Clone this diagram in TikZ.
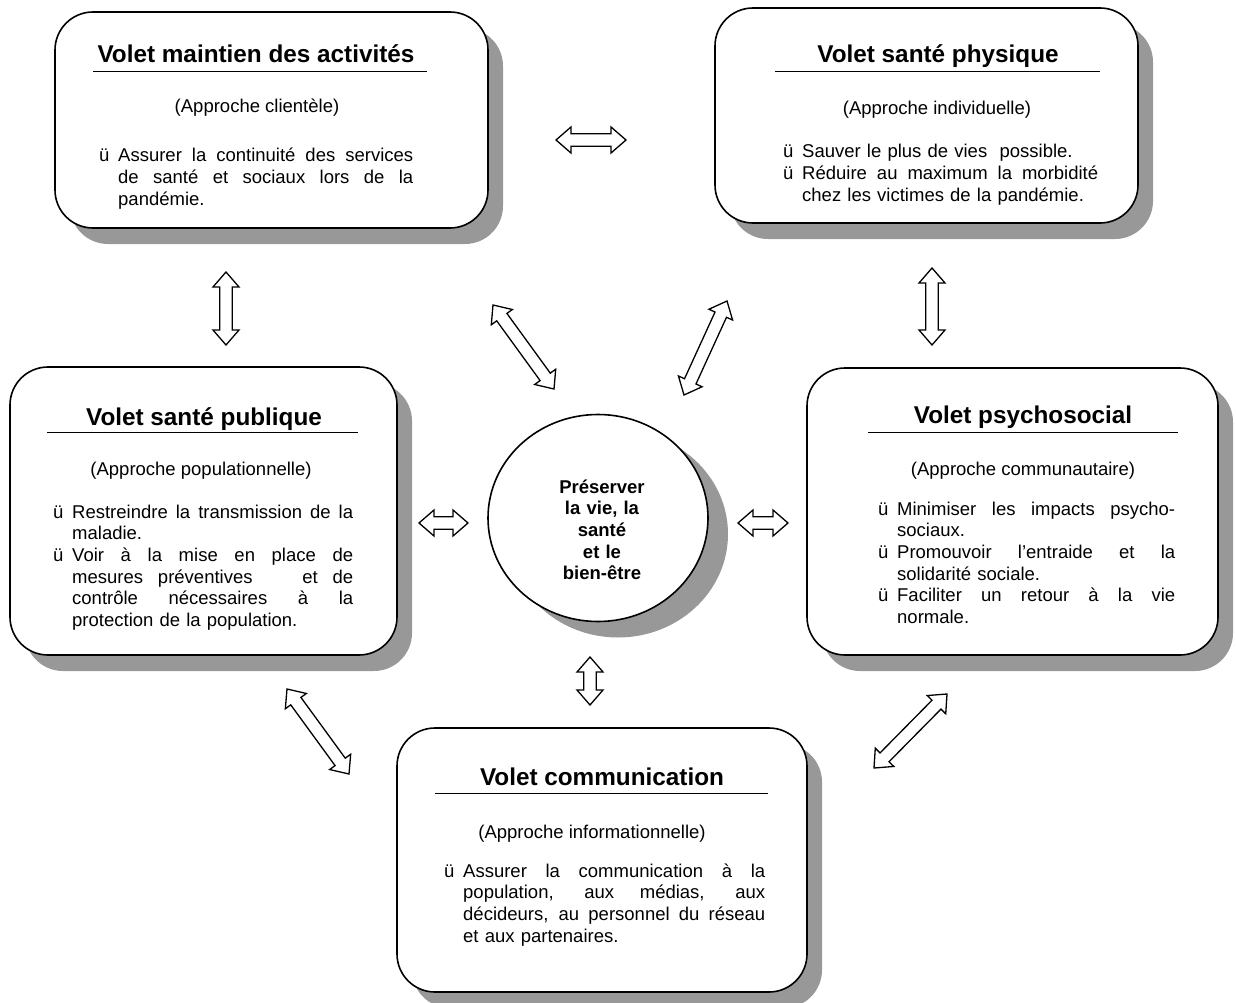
\documentclass[tikz,border=0pt]{standalone}
\usepackage{fontspec}
\setmainfont{Liberation Sans}
\usetikzlibrary{calc,shapes.geometric,shadows}
\definecolor{shadowgray}{RGB}{152,152,152}
\newcommand\bul{\makebox[19pt][l]{ü}}
\newcommand\ind{\hspace*{19pt}}
\newcommand\jl[2]{\makebox[#1pt][s]{\spaceskip=0.278em plus 1fil\relax #2}}
\newcommand\hollowarrow[2]{%
  \draw[harrow] let \p1=(#1), \p2=(#2), \n1={atan2(\y2-\y1,\x2-\x1)} in
   (\p1) -- ($(\p1)+(\n1:15pt)+(\n1+90:13pt)$) -- ($(\p1)+(\n1:15pt)+(\n1+90:6.3pt)$)
   -- ($(\p2)+(\n1+180:15pt)+(\n1+90:6.3pt)$) -- ($(\p2)+(\n1+180:15pt)+(\n1+90:13pt)$)
   -- (\p2) -- ($(\p2)+(\n1+180:15pt)+(\n1-90:13pt)$) -- ($(\p2)+(\n1+180:15pt)+(\n1-90:6.3pt)$)
   -- ($(\p1)+(\n1:15pt)+(\n1-90:6.3pt)$) -- ($(\p1)+(\n1:15pt)+(\n1-90:13pt)$) -- cycle;}
\tikzset{
  vbox/.style={draw, line width=1.6pt, fill=white, rounded corners=38pt, inner sep=0pt,
    drop shadow={shadow xshift=15pt, shadow yshift=-16pt, fill=shadowgray, opacity=1}},
  core/.style={ellipse, draw, line width=1.6pt, fill=white, inner sep=0pt,
    minimum width=220pt, minimum height=207pt,
    drop shadow={shadow xshift=20pt, shadow yshift=-16pt, fill=shadowgray, opacity=1}},
  ttl/.style={font=\bfseries\fontsize{24.3}{28}\selectfont, inner sep=0pt, anchor=base},
  appr/.style={font=\fontsize{18.5}{21.7}\selectfont, inner sep=0pt, anchor=base},
  lst/.style={font=\fontsize{18.5}{21.7}\selectfont, inner sep=0pt, anchor=base west, align=left},
  ctr/.style={font=\bfseries\fontsize{18.5}{21.7}\selectfont, inner sep=0pt, anchor=base, align=center, text width=130pt},
  uline/.style={line width=1pt},
  harrow/.style={draw, fill=white, line width=1.3pt, line join=miter}
}
\begin{document}
\begin{tikzpicture}[x=1pt, y=-1pt]
\useasboundingbox (0,0) rectangle (1236,1003);

% boxes
\node[vbox, minimum width=433pt, minimum height=216pt] (b1) at (271.5,120) {};
\node[vbox, minimum width=423pt, minimum height=215pt] (b2) at (926.5,115.5) {};
\node[vbox, minimum width=387pt, minimum height=288pt] (b3) at (203.5,511) {};
\node[vbox, minimum width=411pt, minimum height=287pt] (b4) at (1012.5,511.5) {};
\node[vbox, minimum width=410pt, minimum height=264pt] (b5) at (602,860) {};
\node[core] (c) at (598,518) {};

% box 1
\node[ttl] (t1) at (256,63) {Volet maintien des activités};
\draw[uline] (93,72) -- (427,72);
\node[appr] (p1) at (257,113) {(Approche clientèle)};
\node[lst, text width=314pt] (l1) at (99,162)
 {\bul\jl{295}{Assurer la continuité des services}\\
  \ind\jl{295}{de santé et sociaux lors de la}\\
  \ind pandémie.};

% box 2
\node[ttl] (t2) at (938,63) {Volet santé physique};
\draw[uline] (775,72) -- (1100,72);
\node[appr] (p2) at (937,115) {(Approche individuelle)};
\node[lst, text width=315pt] (l2) at (783,158)
 {\bul Sauver le plus de vies\ \ possible.\\
  \bul\jl{296}{Réduire au maximum la morbidité}\\
  \ind chez les victimes de la pandémie.};

% box 3
\node[ttl] (t3) at (204,425) {Volet santé publique};
\draw[uline] (47,432) -- (358,432);
\node[appr] (p3) at (201,475) {(Approche populationnelle)};
\begin{scope}
\clip (0,380) rectangle (420,629);
\node[lst, text width=300pt] (l3) at (53,518)
 {\bul\jl{281}{Restreindre la transmission de la}\\
  \ind maladie.\\
  \bul\jl{281}{Voir à la mise en place de}\\
  \ind\jl{281}{mesures préventives \hspace{20pt} et de}\\
  \ind\jl{281}{contrôle nécessaires à la}\\
  \ind protection de la population.};
\end{scope}

% box 4
\node[ttl] (t4) at (1023,423) {Volet psychosocial};
\draw[uline] (868,432) -- (1178,432);
\node[appr] (p4) at (1023,475) {(Approche communautaire)};
\node[lst, text width=297pt] (l4) at (878,515)
 {\bul\jl{278}{Minimiser les impacts psycho-}\\
  \ind sociaux.\\
  \bul\jl{278}{Promouvoir l’entraide et la}\\
  \ind solidarité sociale.\\
  \bul\jl{278}{Faciliter un retour à la vie}\\
  \ind normale.};

% box 5
\node[ttl] (t5) at (602,785) {Volet communication};
\draw[uline] (435,793) -- (768,793);
\node[appr] (p5) at (592,838) {(Approche informationnelle)};
\node[lst, text width=321pt] (l5) at (444,877)
 {\bul\jl{302}{Assurer la communication à la}\\
  \ind\jl{302}{population, aux médias, aux}\\
  \ind\jl{302}{décideurs, au personnel du réseau}\\
  \ind et aux partenaires.};

% centre text
\node[ctr] (ct) at (602,493) {Préserver\\la vie, la\\santé\\et le\\bien-être};

% arrow end points
\coordinate (a1s) at (556,140);  \coordinate (a1e) at (626,140);
\coordinate (a2s) at (226,272);  \coordinate (a2e) at (226,345);
\coordinate (a3s) at (932,268);  \coordinate (a3e) at (932,345);
\coordinate (a4s) at (493,305);  \coordinate (a4e) at (554,389);
\coordinate (a5s) at (727,301);  \coordinate (a5e) at (684,395);
\coordinate (a6s) at (419,523);  \coordinate (a6e) at (468,523);
\coordinate (a7s) at (287,689);  \coordinate (a7e) at (349,774);
\coordinate (a8s) at (947,694);  \coordinate (a8e) at (874,768);
\coordinate (a9s) at (590,657);  \coordinate (a9e) at (590,705);
\coordinate (a10s) at (738,523); \coordinate (a10e) at (788,523);

\hollowarrow{a1s}{a1e}
\hollowarrow{a2s}{a2e}
\hollowarrow{a3s}{a3e}
\hollowarrow{a4s}{a4e}
\hollowarrow{a5s}{a5e}
\hollowarrow{a6s}{a6e}
\hollowarrow{a7s}{a7e}
\hollowarrow{a8s}{a8e}
\hollowarrow{a9s}{a9e}
\hollowarrow{a10s}{a10e}
\end{tikzpicture}
\end{document}
